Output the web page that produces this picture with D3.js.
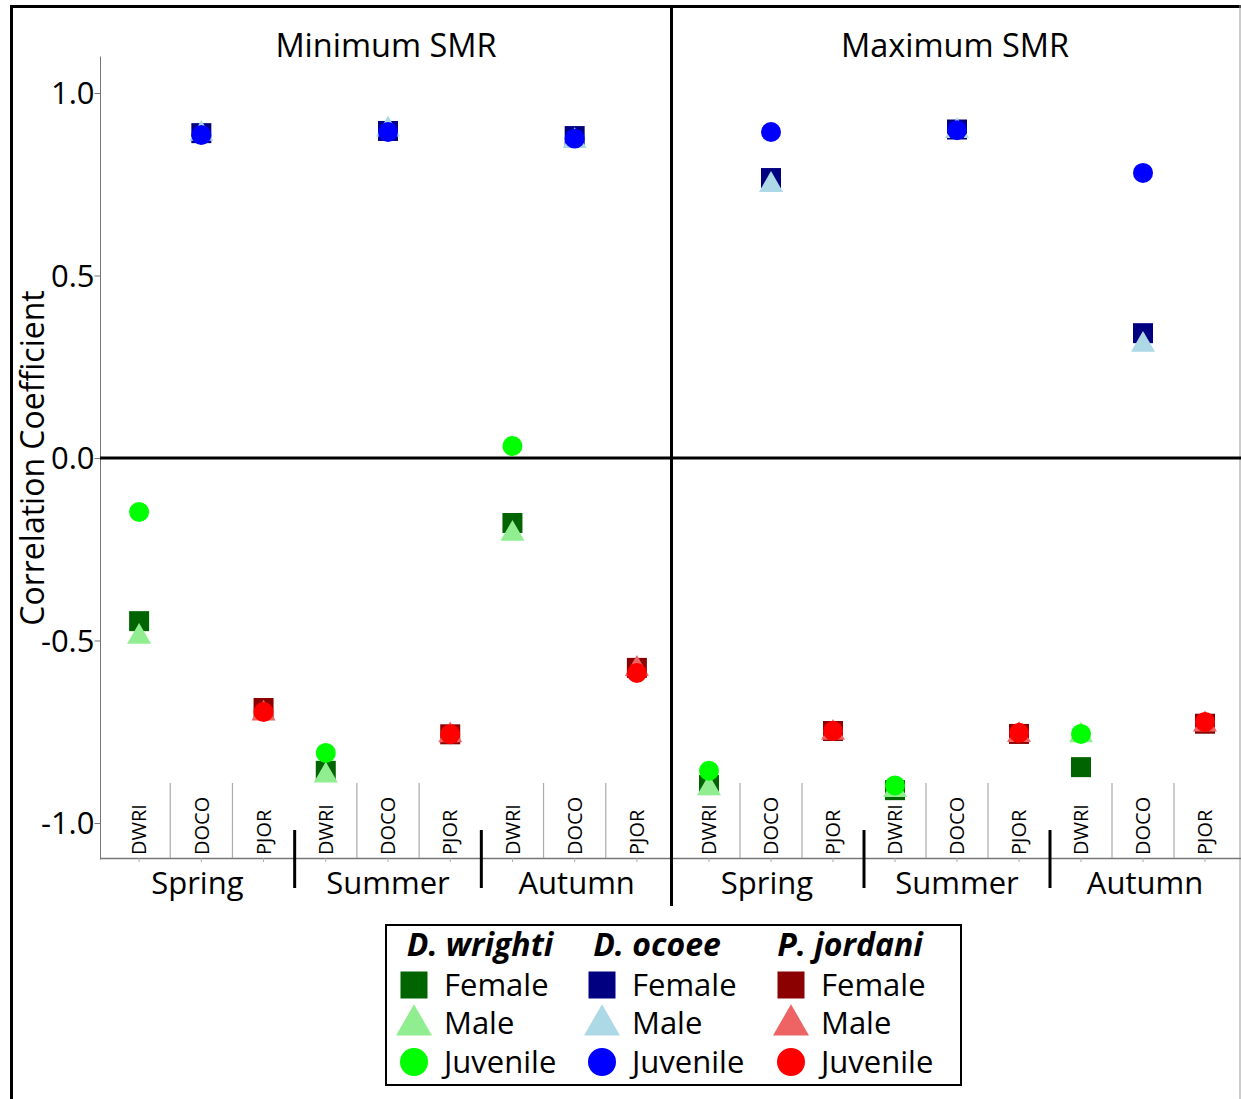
<!DOCTYPE html>
<html>
<head>
<meta charset="utf-8">
<script src="https://cdnjs.cloudflare.com/ajax/libs/d3/7.8.5/d3.min.js"></script>
<style>
  body { margin: 0; background: #fff; }
  text { font-family: "Open Sans", sans-serif; fill: #000; }
</style>
</head>
<body>
<svg id="chart" width="1241" height="1099"></svg>
<script>
// data
var panels = ["Minimum SMR", "Maximum SMR"];
var seasons = ["Spring", "Summer", "Autumn"];
var species = ["DWRI", "DOCO", "PJOR"];
var sexes = ["Female", "Male", "Juvenile"];
var yTicks = [-1, -0.5, 0, 0.5, 1];

// values in order Spring DWRI, DOCO, PJOR, Summer ..., Autumn ...
var minFemale   = [-0.447, 0.890, -0.685, -0.857, 0.896, -0.757, -0.178, 0.882, -0.575];
var minMale     = [-0.490, 0.888, -0.700, -0.870, 0.900, -0.760, -0.208, 0.868, -0.578];
var minJuvenile = [-0.148, 0.885, -0.696, -0.808, 0.893, -0.757,  0.033, 0.875, -0.589];
var maxFemale   = [-0.896, 0.767, -0.748, -0.910, 0.900, -0.756, -0.847, 0.342, -0.728];
var maxMale     = [-0.905, 0.748, -0.753, -0.910, 0.896, -0.759, -0.760, 0.310, -0.730];
var maxJuvenile = [-0.857, 0.893, -0.748, -0.897, 0.898, -0.753, -0.756, 0.781, -0.723];

var legendNames = ["D. wrighti", "D. ocoee", "P. jordani"];
var colors = {
  DWRI: ["#006400", "#90EE90", "#00FF00"],
  DOCO: ["#000080", "#ADD8E6", "#0000FF"],
  PJOR: ["#8B0000", "#EE6363", "#FF0000"]
};

var panelValues = [
  [minFemale, minMale, minJuvenile],
  [maxFemale, maxMale, maxJuvenile]
];

var svg = d3.select("#chart");

var y = d3.scaleLinear().domain([-1.1, 1.1]).range([859.5, 56.5]);
var panelRanges = [[108, 668], [678, 1236]];

var cats = [];
seasons.forEach(function(s) { species.forEach(function(sp) { cats.push(s + "|" + sp); }); });

var symbols = [d3.symbolSquare, d3.symbolTriangle, d3.symbolCircle];
var markSize = [400, 250, 314];
var legSize = [729, 560, 616];

// frame
svg.append("line").attr("x1", 10).attr("x2", 1241).attr("y1", 6.5).attr("y2", 6.5)
  .attr("stroke", "#000").attr("stroke-width", 3);
svg.append("line").attr("x1", 11.5).attr("x2", 11.5).attr("y1", 5).attr("y2", 1099)
  .attr("stroke", "#000").attr("stroke-width", 3);
svg.append("line").attr("x1", 1240).attr("x2", 1240).attr("y1", 5).attr("y2", 1099)
  .attr("stroke", "#999").attr("stroke-width", 1);

// y axis
var yAxis = svg.append("g").attr("transform", "translate(100.5,0)")
  .call(d3.axisLeft(y).tickValues(yTicks).tickSize(6).tickFormat(function(d) { return d.toFixed(1); }));
yAxis.select(".domain").attr("stroke", "#777").attr("d", "M0," + y(1.1) + "V" + y(-1.1));
yAxis.selectAll(".tick line").attr("stroke", "#777");
yAxis.selectAll("text").style("font-family", "Open Sans").style("font-size", "31px").attr("x", -6).attr("dy", "0.34em");

svg.append("text").attr("transform", "translate(44," + y(0) + ") rotate(-90)")
  .attr("text-anchor", "middle").style("font-size", "32px").text("Correlation Coefficient");

// x baseline
svg.append("line").attr("x1", 100).attr("x2", 1241).attr("y1", 858.5).attr("y2", 858.5)
  .attr("stroke", "#777").attr("stroke-width", 1.5);

panels.forEach(function(p, pi) {
  var x = d3.scaleBand().domain(cats).range(panelRanges[pi]);
  var bw = x.bandwidth();
  var g = svg.append("g");

  g.append("text").attr("x", (panelRanges[pi][0] + panelRanges[pi][1]) / 2 - 2).attr("y", 57)
    .attr("text-anchor", "middle").style("font-size", "32.5px").text(p);

  // thin separators between categories
  cats.forEach(function(c, i) {
    if (i > 0 && i % 3 !== 0) {
      g.append("line").attr("x1", x(c)).attr("x2", x(c)).attr("y1", 783).attr("y2", 858)
        .attr("stroke", "#aaa").attr("stroke-width", 1.2);
    }
    if (i > 0 && i % 3 === 0) {
      g.append("line").attr("x1", x(c)).attr("x2", x(c)).attr("y1", 830).attr("y2", 888)
        .attr("stroke", "#000").attr("stroke-width", 3);
    }
    g.append("line").attr("x1", x(c) + bw / 2).attr("x2", x(c) + bw / 2).attr("y1", 858).attr("y2", 862)
      .attr("stroke", "#aaa").attr("stroke-width", 1);
    g.append("text")
      .attr("transform", "translate(" + (x(c) + bw / 2) + ",855) rotate(-90)")
      .attr("dy", "0.36em").style("font-size", "20px").text(c.split("|")[1]);
  });

  seasons.forEach(function(s, si) {
    var cx = x(s + "|DOCO") + bw / 2 + (si === 0 ? -4 : si === 2 ? 2 : 0);
    g.append("text").attr("x", cx).attr("y", 894).attr("text-anchor", "middle")
      .style("font-size", "31px").text(s);
  });

  // markers: squares, then triangles, then circles
  sexes.forEach(function(sx, si) {
    g.selectAll(".m" + si).data(panelValues[pi][si]).enter().append("path")
      .attr("d", d3.symbol().type(symbols[si]).size(markSize[si]))
      .attr("transform", function(d, i) { return "translate(" + (x(cats[i]) + bw / 2) + "," + y(d) + ")"; })
      .attr("fill", function(d, i) { return colors[cats[i].split("|")[1]][si]; });
  });
});

// zero line and panel divider
svg.append("line").attr("x1", 100).attr("x2", 1241).attr("y1", y(0)).attr("y2", y(0))
  .attr("stroke", "#000").attr("stroke-width", 3);
svg.append("line").attr("x1", 671.5).attr("x2", 671.5).attr("y1", 5).attr("y2", 906)
  .attr("stroke", "#000").attr("stroke-width", 3);

// legend
var leg = svg.append("g");
leg.append("rect").attr("x", 386).attr("y", 925).attr("width", 575).attr("height", 160)
  .attr("fill", "#fff").attr("stroke", "#000").attr("stroke-width", 2);
var colX = [414, 602, 791];
var headX = [480, 657, 850];
var rowY = [985, 1023, 1062];
species.forEach(function(sp, ci) {
  leg.append("text").attr("x", headX[ci]).attr("y", 956).attr("text-anchor", "middle")
    .style("font-size", "32px").style("font-weight", "bold").style("font-style", "italic")
    .text(legendNames[ci]);
  sexes.forEach(function(sx, si) {
    leg.append("path").attr("d", d3.symbol().type(symbols[si]).size(legSize[si]))
      .attr("transform", "translate(" + colX[ci] + "," + (si === 1 ? rowY[si] + 2 : rowY[si]) + ")")
      .attr("fill", colors[sp][si]);
    leg.append("text").attr("x", colX[ci] + 30).attr("y", rowY[si]).attr("dy", "0.36em")
      .style("font-size", "31px").text(sx);
  });
});
</script>
</body>
</html>
